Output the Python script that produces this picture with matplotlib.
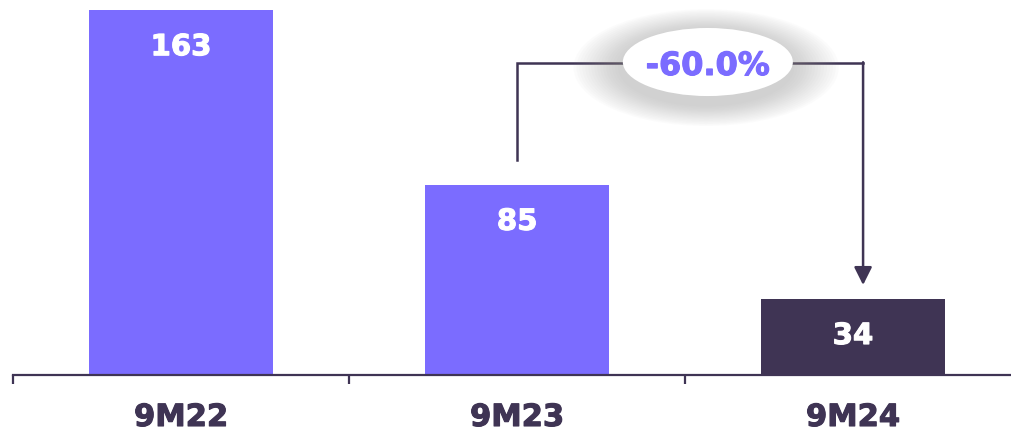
import numpy as np
import matplotlib.pyplot as plt
from matplotlib.patches import Ellipse
import matplotlib.transforms as mtransforms
import matplotlib.patheffects as pe

# datos
categorias = ["9M22", "9M23", "9M24"]
valores = [163, 85, 34]
colores = ["#7B6CFF", "#7B6CFF", "#3F3454"]

oscuro = "#3F3454"
lila = "#7B6CFF"

fig = plt.figure(figsize=(10.12, 4.32), dpi=100)
ax = fig.add_axes([13/1012, 57/432, 1008/1012, 375/432])

x = np.arange(len(categorias))
ax.bar(x, valores, width=0.55, color=colores, zorder=2)

ax.set_xlim(-0.5, 2.5)
ax.set_ylim(0, 167.5)

# etiquetas de valor dentro de cada barra
for xi, v in zip(x, valores):
    ax.annotate(str(v), xy=(xi, v), xytext=(0, -32.5), textcoords="offset points",
                ha="center", va="baseline", color="white", fontsize=21,
                fontweight="bold", zorder=3,
                path_effects=[pe.withStroke(linewidth=0.8, foreground="white")])

# ejes
for s in ["top", "right", "left"]:
    ax.spines[s].set_visible(False)
ax.spines["bottom"].set_color(oscuro)
ax.spines["bottom"].set_linewidth(1.6)
ax.set_yticks([])
ax.set_xticks([-0.5, 0.5, 1.5, 2.5])
ax.set_xticklabels([])
ax.tick_params(axis="x", direction="out", length=6.5, width=1.6, color=oscuro)

trans = mtransforms.blended_transform_factory(ax.transData, ax.transAxes)
for xi, c in zip(x, categorias):
    ax.text(xi, -51/375, c, transform=trans, ha="center", va="baseline",
            fontsize=22, fontweight="bold", color=oscuro, clip_on=False,
            path_effects=[pe.withStroke(linewidth=0.8, foreground=oscuro)])

# corchete con flecha
cambio = (valores[2] - valores[1]) / valores[1] * 100
x_izq, x_der = 1.0, 2.03
y_top = 139.3
ax.plot([x_izq, x_izq, x_der], [96, y_top, y_top], color=oscuro, lw=1.8,
        solid_joinstyle="miter", zorder=3, clip_on=False)
ax.annotate("", xy=(x_der, 40.2), xytext=(x_der, y_top + 0.4),
            arrowprops=dict(arrowstyle="-|>,head_length=0.5,head_width=0.25",
                            mutation_scale=21.6, color=oscuro, lw=1.8,
                            shrinkA=0, shrinkB=0), zorder=3)

# elipse con sombra
cx, cy = 1.568, 139.8
w, h = 0.506, 30.4
for i in range(16, 0, -1):
    f = 1 + i * 0.035
    ax.add_patch(Ellipse((cx - 0.005, cy - 2.5), w * f, h * f * 1.1, color="#9a9a9a",
                         alpha=0.03, lw=0, zorder=4, clip_on=False))
ax.add_patch(Ellipse((cx, cy), w, h, color="white", lw=0, zorder=5, clip_on=False))
ax.text(cx, 134, f"{cambio:.1f}%", ha="center", va="baseline", fontsize=23,
        fontweight="bold", color=lila, zorder=6,
        path_effects=[pe.withStroke(linewidth=0.8, foreground=lila)])

fig.savefig("out.png", dpi=100)
